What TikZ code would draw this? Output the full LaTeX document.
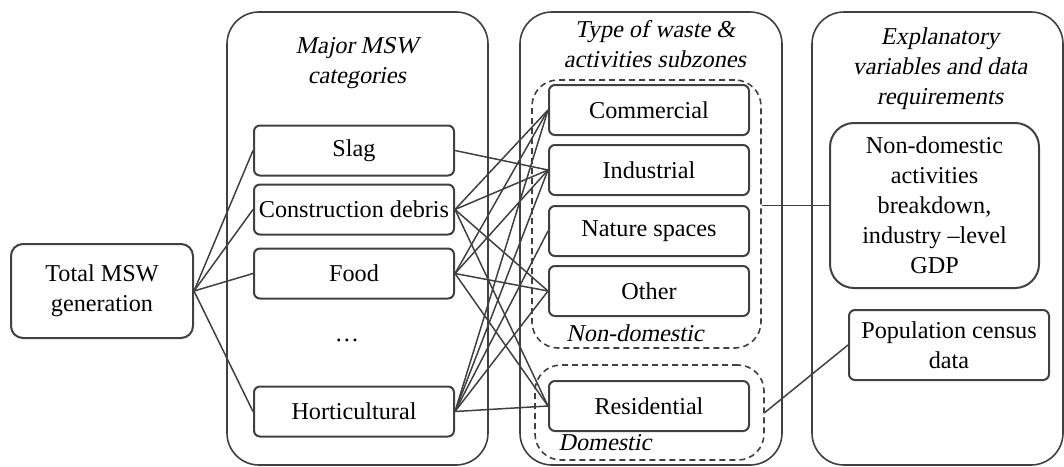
\documentclass[tikz,border=0pt]{standalone}
\usepackage{fontspec}
\setmainfont{Liberation Serif}
\newfontfamily\slantfont{Liberation Serif}[FakeSlant=0.2]
\usetikzlibrary{positioning}
\definecolor{linegray}{RGB}{64,64,64}

\begin{document}
\begin{tikzpicture}[x=0.5pt, y=-0.5pt,
    font=\fontsize{12.1}{15}\selectfont,
    box/.style={draw=linegray, line width=1pt, rounded corners=3pt, minimum width=100pt, minimum height=25pt, inner sep=0pt, align=center},
    panel/.style={draw=linegray, line width=0.8pt, rounded corners=16pt, minimum width=#1, minimum height=226.5pt, inner sep=0pt},
    group/.style={draw=linegray, line width=0.8pt, dash pattern=on 3pt off 2pt, rounded corners=13pt, inner sep=0pt},
    title/.style={font=\slantfont\fontsize{12.1}{15}\selectfont, align=center, inner sep=0pt},
    link/.style={draw=linegray, line width=0.75pt}]
                \useasboundingbox (0,0) rectangle (1064,466);
                \node [panel=130.5pt] (P1) at (357.5,238.5) {};
                \node [panel=131pt] (P2) at (651,238.5) {};
                \node [panel=125.5pt] (P3) at (937.5,238.5) {};
                \node [title, anchor=north] (T1) at (357,37) {Major MSW\\categories};
                \node [title, anchor=north] (T2) at (655,20) {Type of waste \&\\activities subzones};
                \node [title, anchor=north] (T3) at (940,27) {Explanatory\\variables and data\\requirements};
                \node [box, minimum width=91pt, minimum height=47pt, rounded corners=6pt] (TM) at (102,291) {Total MSW\\generation};
                \node [box] (S) at (354,150.5) {Slag};
                \node [box, below = 3.5pt of S] (CD) {Construction debris};
                \node [box, below = 6pt of CD] (F) {Food};
                \node [box, below = 43pt of F] (H) {Horticultural};
                \node (dots) at (347,340) {…};
                \node [group, minimum width=114.5pt, minimum height=134pt] (ND) at (646.5,214) {};
                \node [group, minimum width=114.5pt, minimum height=47.5pt] (D) at (649.5,412.5) {};
                \node [title] (NDl) at (635,333) {Non-domestic};
                \node [title] (Dl) at (605,443) {Domestic};
                \node [box] (C) at (649,110) {Commercial};
                \node [box, below = 4pt of C] (I) {Industrial};
                \node [box, below = 4.5pt of I] (N) {Nature spaces};
                \node [box, below = 4pt of N] (O) {Other};
                \node [box, below = 31.5pt of O] (R) {Residential};
                \node [box, minimum width=104.5pt, minimum height=82.5pt, rounded corners=12pt] (NA) at (934.5,205.5) {Non-domestic\\activities\\breakdown,\\industry –level\\GDP};
                \node [box, minimum height=35pt] (PC) at (949,345) {Population census\\data};
                \draw [link] (TM.east) -- (S.west);
                \draw [link] (TM.east) -- (CD.west);
                \draw [link] (TM.east) -- (F.west);
                \draw [link] (TM.east) -- (H.west);
                \draw [link] (S.east) -- (I.west);
                \draw [link] (CD.east) -- (C.west);
                \draw [link] (CD.east) -- (I.west);
                \draw [link] (CD.east) -- (O.west);
                \draw [link] (CD.east) -- (R.west);
                \draw [link] (F.east) -- (C.west);
                \draw [link] (F.east) -- (I.west);
                \draw [link] (F.east) -- (O.west);
                \draw [link] (F.east) -- (R.west);
                \draw [link] (H.east) -- (C.west);
                \draw [link] (H.east) -- (I.west);
                \draw [link] (H.east) -- (N.west);
                \draw [link] (H.east) -- (O.west);
                \draw [link] (H.east) -- (R.west);
                \draw [link] (NA.west) -- (NA.west -| ND.east);
                \draw [link] (D.east) -- (PC.west);
            \end{tikzpicture}
\end{document}
